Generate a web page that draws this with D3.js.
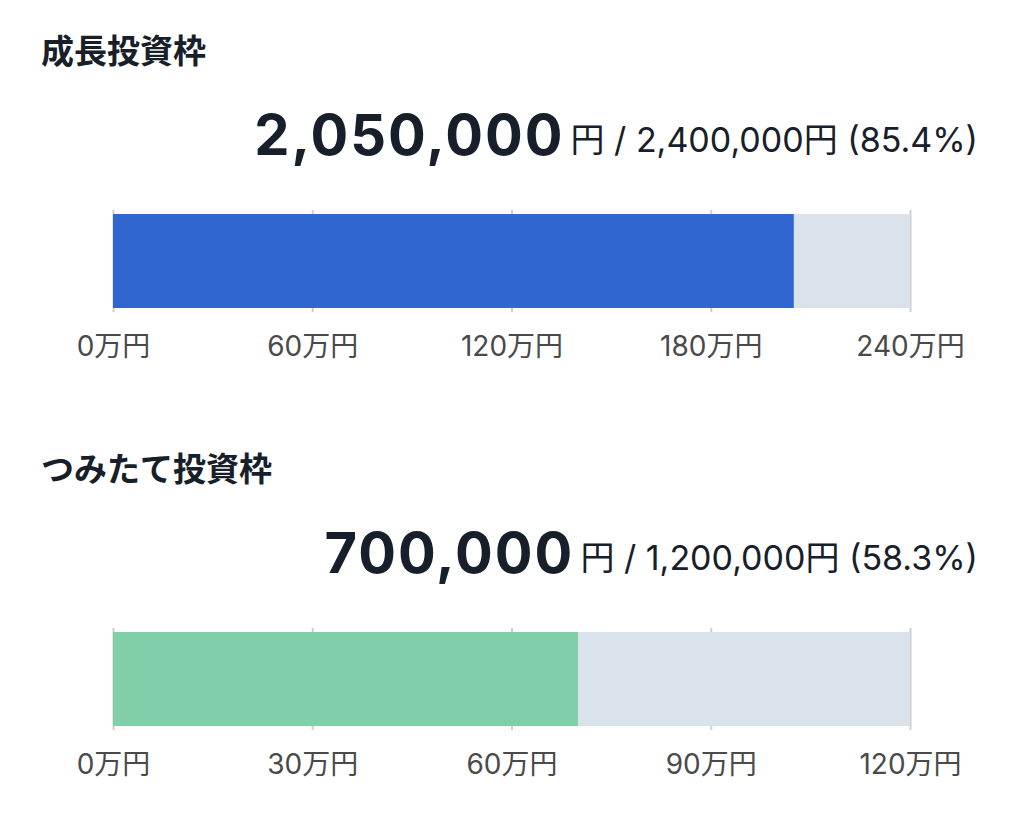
<!DOCTYPE html>
<html>
<head>
<meta charset="utf-8">
<script src="https://cdn.jsdelivr.net/npm/d3@7"></script>
<style>
  html, body { margin: 0; padding: 0; background: #fff; }
  svg { display: block; }
  text { font-family: Inter, "Noto Sans CJK JP", sans-serif; }
</style>
</head>
<body>
<svg id="chart" width="1024" height="832"></svg>
<script>
// data
const frameNames = ["成長投資枠", "つみたて投資枠"]
const usedAmounts = [2050000, 700000]
const limitAmounts = [2400000, 1200000]
const growthTicks = [0, 600000, 1200000, 1800000, 2400000]
const tsumitateTicks = [0, 300000, 600000, 900000, 1200000]
const tickSets = [growthTicks, tsumitateTicks]

// styles
const fillColors = ["#3066cf", "#80cfa9"]
const restColor = "#dae2eb"
const darkText = "#17202a"

const svg = d3.select("#chart")
const fmt = d3.format(",")
const manYen = d => (d / 10000) + "万円"

const sectionOffset = 418
const barLeft = 113, barRight = 910
const rightEdge = 978

frameNames.forEach((name, i) => {
    const g = svg.append("g").attr("transform", `translate(0,${i * sectionOffset})`)

    const x = d3.scaleLinear().domain([0, limitAmounts[i]]).range([barLeft, barRight])

    //Title
    g.append("text")
        .attr("x", 41).attr("y", 63)
        .attr("font-size", 33).attr("font-weight", 700)
        .attr("fill", darkText)
        .text(name)

    //Amount line: small part first so the big number can sit left of it
    const pct = (usedAmounts[i] / limitAmounts[i] * 100).toFixed(1)
    const small = g.append("text")
        .attr("x", rightEdge).attr("y", 152)
        .attr("text-anchor", "end")
        .attr("font-size", 34)
        .attr("fill", darkText)
        .text(`円 / ${fmt(limitAmounts[i])}円 (${pct}%)`)
    const smallW = small.node().getComputedTextLength()

    g.append("text")
        .attr("x", rightEdge - smallW - 6).attr("y", 155)
        .attr("text-anchor", "end")
        .attr("font-size", 56).attr("font-weight", 700)
        .attr("letter-spacing", 2)
        .attr("fill", darkText)
        .text(fmt(usedAmounts[i]))

    //Grid lines (under the bars)
    const axis = d3.axisBottom(x)
        .tickValues(tickSets[i])
        .tickSize(102)
        .tickFormat(manYen)
    const ax = g.append("g")
        .attr("transform", "translate(0,210)")
        .call(axis)
    ax.select(".domain").remove()
    ax.selectAll(".tick line").attr("stroke", "#cfcfcf").attr("stroke-width", 2)
    ax.selectAll(".tick text")
        .attr("y", 0)
        .attr("dy", 0)
        .attr("transform", "translate(0,146)")
        .attr("font-size", 28)
        .attr("font-family", 'Inter, "Noto Sans CJK JP", sans-serif')
        .attr("fill", "#4a4a4a")

    //Bars
    const barY = 214, barH = 94
    g.append("rect")
        .attr("x", x(0)).attr("y", barY)
        .attr("width", x(limitAmounts[i]) - x(0)).attr("height", barH)
        .attr("fill", restColor)
    g.append("rect")
        .attr("x", x(0)).attr("y", barY)
        .attr("width", x(usedAmounts[i]) - x(0)).attr("height", barH)
        .attr("fill", fillColors[i])
})
</script>
</body>
</html>
